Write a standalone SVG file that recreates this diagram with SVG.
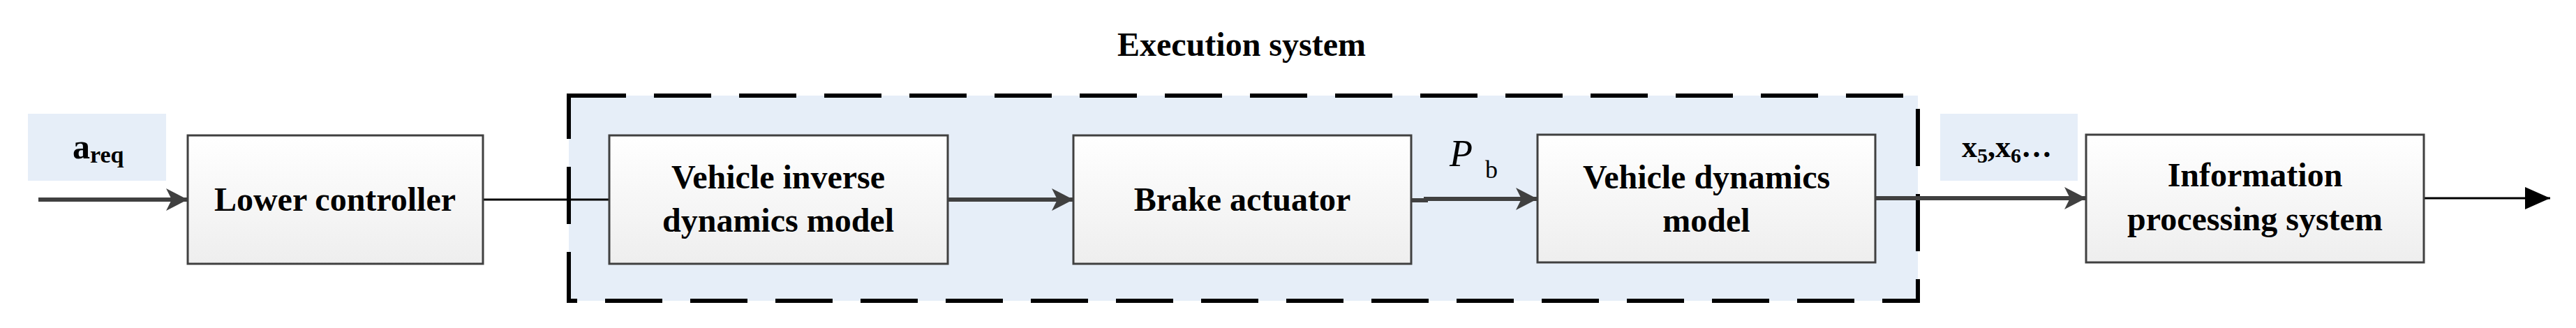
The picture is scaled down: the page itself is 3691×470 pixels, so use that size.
<svg xmlns="http://www.w3.org/2000/svg" width="3691" height="470" viewBox="0 0 3691 470">
<style>
.box{fill:url(#g);stroke:#404040;stroke-width:3}
.lbl{fill:#e6eef8}
.t{font-family:"Liberation Serif",serif;font-weight:bold;font-size:48px;fill:#000;text-anchor:middle}
.c{stroke:#404040;stroke-width:6;fill:none}
.thin{stroke:#000;stroke-width:3;fill:none}
</style>
<defs>
<linearGradient id="g" x1="0" y1="0" x2="0" y2="1"><stop offset="0" stop-color="#ffffff"/><stop offset="1" stop-color="#eeeeee"/></linearGradient>
<marker id="ah" markerWidth="32" markerHeight="32" refX="31" refY="16" markerUnits="userSpaceOnUse" orient="auto"><path d="M0,0 L31,16 L0,32 L8,16 Z" fill="#404040"/></marker>
<marker id="ab" markerWidth="36" markerHeight="32" refX="36" refY="16" markerUnits="userSpaceOnUse" orient="auto"><path d="M0,0 L36,16 L0,32 Z" fill="#000"/></marker>
</defs>
<g id="execution-system">
<rect x="815" y="137" width="1933" height="294" fill="#e6eef8" stroke="#000" stroke-width="6" stroke-dasharray="82 40"/>
<text class="t" x="1779" y="80">Execution system</text>
</g>
<g id="connectors">
<line class="c" x1="55" y1="286" x2="269" y2="286" marker-end="url(#ah)"/>
<line class="thin" x1="692" y1="286" x2="873" y2="286"/>
<line class="c" x1="1358" y1="286" x2="1538" y2="286" marker-end="url(#ah)"/>
<polyline class="c" points="2022,287 2043,287 2043,285 2203,285" marker-end="url(#ah)"/>
<line class="c" x1="2687" y1="284" x2="2989" y2="284" marker-end="url(#ah)"/>
<line class="thin" x1="3473" y1="284" x2="3654" y2="284" marker-end="url(#ab)"/>
</g>
<g id="areq">
<rect class="lbl" x="40" y="163" width="198" height="96"/>
<text x="104" y="227" font-family="Liberation Serif,serif" font-weight="bold" font-size="50">a<tspan font-size="34" dy="6">req</tspan></text>
</g>
<g id="lower-controller">
<rect class="box" x="269" y="194" width="423" height="184"/>
<text class="t" x="480" y="302">Lower controller</text>
</g>
<g id="vehicle-inverse">
<rect class="box" x="873" y="194" width="485" height="184"/>
<text class="t" x="1115" y="270">Vehicle inverse</text>
<text class="t" x="1115" y="332">dynamics model</text>
</g>
<g id="brake-actuator">
<rect class="box" x="1538" y="194" width="484" height="184"/>
<text class="t" x="1780" y="302">Brake actuator</text>
</g>
<g id="pb">
<text x="2077" y="238" font-family="Liberation Serif,serif" font-style="italic" font-size="54">P</text>
<text x="2128" y="255" font-family="Liberation Serif,serif" font-size="36">b</text>
</g>
<g id="vehicle-dynamics">
<rect class="box" x="2203" y="193" width="484" height="183"/>
<text class="t" x="2445" y="270">Vehicle dynamics</text>
<text class="t" x="2445" y="332">model</text>
</g>
<g id="x5x6">
<rect class="lbl" x="2780" y="163" width="197" height="96"/>
<text x="2811" y="225" font-family="Liberation Serif,serif" font-weight="bold" font-size="44">x<tspan font-size="30" dy="8">5</tspan><tspan dy="-8">,x</tspan><tspan font-size="30" dy="8">6</tspan><tspan dy="-8">…</tspan></text>
</g>
<g id="information-processing">
<rect class="box" x="2989" y="193" width="484" height="183"/>
<text class="t" x="3231" y="267">Information</text>
<text class="t" x="3231" y="330">processing system</text>
</g>
</svg>
